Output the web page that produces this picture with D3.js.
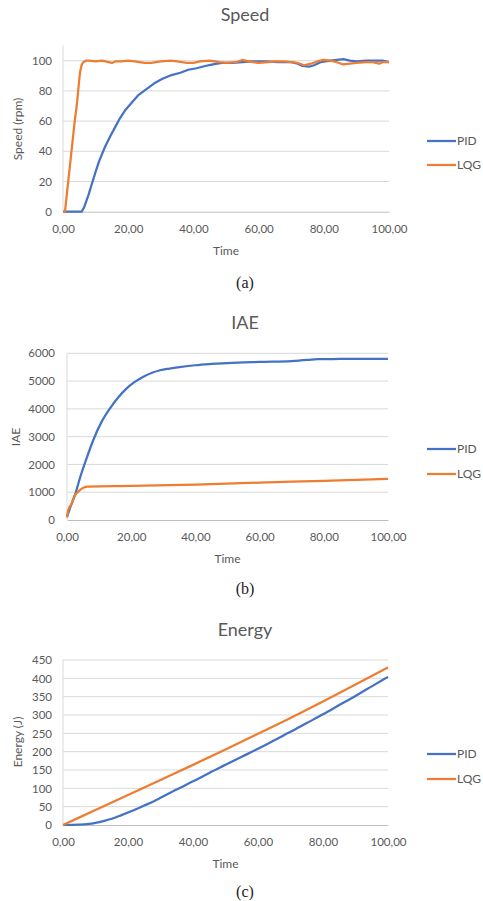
<!DOCTYPE html>
<html>
<head>
<meta charset="utf-8">
<script src="https://cdn.jsdelivr.net/npm/d3@7"></script>
<style>
  body { margin: 0; background: #fff; }
  svg { display: block; }
  text { font-family: Lato, "Open Sans", sans-serif; }
</style>
</head>
<body>
<div id="chart"></div>
<script>
// Speed (rpm) - PID
const speedPidT = [0, 5.7, 6.5, 7.8, 8.8, 9.8, 11, 12.9, 14.5, 16, 17.5, 19, 21, 23, 25.5, 28, 30.5, 33.3, 36, 38.4, 41, 43.6, 46, 48.7, 52, 55, 58, 62, 66, 70, 72, 73.5, 75.5, 77, 79, 82, 84, 86, 88, 90, 93, 96, 98, 100];
const speedPidV = [0, 0, 3, 11, 18, 25, 33, 43, 50, 56, 62, 67, 72, 77, 81, 85, 88, 90.5, 92, 94, 95, 96.5, 97.5, 98.5, 98.5, 99, 99.5, 99.5, 99, 99, 98, 96.5, 96, 97, 99, 100, 100.5, 101, 100, 99.5, 100, 100, 100, 99];
// Speed (rpm) - LQG
const speedLqgT = [0, 0.6, 1.1, 1.6, 2.1, 2.7, 3.2, 3.7, 4.2, 4.7, 5.2, 5.7, 6.2, 7, 8, 10, 12, 14, 15, 16, 18, 20, 22, 25, 27, 30, 33, 35, 38, 40, 42, 45, 48, 50, 53, 55, 57, 60, 63, 65, 68, 70, 72, 74, 76, 78, 80, 82, 84, 86, 88, 90, 93, 95, 97, 98, 100];
const speedLqgV = [0, 0, 10, 20, 30, 42, 52, 62, 70, 81, 92, 97, 99, 100, 100, 99.5, 100, 99, 98.5, 99.5, 99.5, 100, 99.5, 98.5, 98.5, 99.5, 100, 99.5, 98.5, 98.5, 99.5, 100, 99, 98.5, 99, 100.5, 99.5, 98.5, 99, 99.5, 99.5, 99, 98.5, 97, 98, 99.5, 100.5, 100, 99, 97.5, 98, 98.5, 99, 99, 98, 99, 99];

// IAE - PID
const iaePidT = [0, 1, 2.5, 4, 6.1, 8.2, 10.8, 13.4, 16, 18.6, 21, 23.8, 26.5, 29, 32, 35, 40, 45, 50, 60, 70, 75, 78, 85, 100];
const iaePidV = [100, 450, 900, 1500, 2220, 2880, 3540, 4020, 4420, 4740, 4960, 5160, 5300, 5390, 5450, 5500, 5570, 5615, 5650, 5690, 5720, 5760, 5790, 5795, 5800];
// IAE - LQG
const iaeLqgT = [0, 0.4, 1.5, 2.2, 3.5, 5.1, 6.5, 20, 40, 60, 80, 100];
const iaeLqgV = [100, 360, 600, 840, 1020, 1164, 1200, 1225, 1275, 1345, 1410, 1480];

// Energy (J) - PID
const energyPidT = [0, 5, 8, 10, 13, 15, 18, 20, 23, 25, 28, 30, 33, 35, 40, 45, 50, 55, 60, 65, 70, 75, 80, 85, 90, 95, 100];
const energyPidV = [0, 1, 3, 6, 12, 17, 27, 34, 45, 53, 65, 74, 88, 97, 119, 142, 164, 186, 208, 231, 254, 278, 302, 327, 352, 378, 404];
// Energy (J) - LQG
const energyLqgT = [0, 10, 20, 30, 40, 50, 60, 70, 80, 90, 100];
const energyLqgV = [0, 41, 82, 123, 164, 206, 249, 292, 337, 383, 430];

// Shared x ticks and legend names
const timeTicks = [0, 20, 40, 60, 80, 100];
const seriesNames = ['PID', 'LQG'];
const seriesColors = ['#4472C4', '#ED7D31'];

const width = 483;
const height = 901;

const svg = d3.select('#chart')
    .append('svg')
    .attr('width', width)
    .attr('height', height);

// Comma decimal format like the spreadsheet ("20,00")
const fmtTime = (d) => d3.format('.2f')(d).replace('.', ',');

function drawPanel(p) {
    const x = d3.scaleLinear().domain([0, 100]).range([p.left, p.right]);
    const y = d3.scaleLinear().domain([0, p.yMax]).range([p.bottom, p.top]);

    const g = svg.append('g');

    // Chart title
    g.append('text')
        .attr('x', 245)
        .attr('y', p.titleY)
        .attr('text-anchor', 'middle')
        .attr('fill', '#595959')
        .style('font-size', '18px')
        .text(p.title);

    // Horizontal gridlines
    g.append('g')
        .selectAll('line')
        .data(p.yTicks.filter((d) => d > 0))
        .join('line')
        .attr('x1', p.left)
        .attr('x2', p.right)
        .attr('y1', (d) => y(d))
        .attr('y2', (d) => y(d))
        .attr('stroke', '#d9d9d9')
        .attr('stroke-width', 1);

    // Left axis line (light)
    g.append('line')
        .attr('x1', p.left)
        .attr('x2', p.left)
        .attr('y1', y(p.yMax))
        .attr('y2', p.bottom)
        .attr('stroke', '#d9d9d9');

    // Bottom axis
    const xAxis = d3.axisBottom(x)
        .tickValues(timeTicks)
        .tickFormat(fmtTime)
        .tickSize(0)
        .tickPadding(13);
    const xg = g.append('g')
        .attr('transform', `translate(0, ${p.bottom})`)
        .call(xAxis);
    xg.select('.domain').attr('stroke', '#bfbfbf');
    xg.selectAll('text')
        .attr('fill', '#595959')
        .style('font-family', 'Lato, sans-serif')
        .style('font-size', '11.5px');

    // Left axis labels
    const yAxis = d3.axisLeft(y)
        .tickValues(p.yTicks)
        .tickFormat(d3.format('d'))
        .tickSize(0)
        .tickPadding(p.yPad);
    const yg = g.append('g')
        .attr('transform', `translate(${p.left}, 0)`)
        .call(yAxis);
    yg.select('.domain').remove();
    yg.selectAll('text')
        .attr('fill', '#595959')
        .style('font-family', 'Lato, sans-serif')
        .style('font-size', '11.5px');

    // Axis titles
    g.append('text')
        .attr('x', (p.left + p.right) / 2)
        .attr('y', p.timeY)
        .attr('text-anchor', 'middle')
        .attr('fill', '#595959')
        .style('font-size', '12px')
        .text('Time');

    g.append('text')
        .attr('transform', `translate(${p.yLabelX}, ${p.yLabelY}) rotate(-90)`)
        .attr('text-anchor', 'middle')
        .attr('fill', '#595959')
        .style('font-size', '12px')
        .text(p.yLabel);

    // Series lines
    const line = d3.line()
        .curve(p.curve)
        .x((d) => x(d[0]))
        .y((d) => y(d[1]));

    p.series.forEach((s, i) => {
        const pts = s.t.map((t, k) => [t, s.v[k]]);
        g.append('path')
            .datum(pts)
            .attr('fill', 'none')
            .attr('stroke', seriesColors[i])
            .attr('stroke-width', 2.25)
            .attr('stroke-linejoin', 'round')
            .attr('d', line);
    });

    // Legend (nudged left a bit so "LQG" stays inside the page)
    seriesNames.forEach((name, i) => {
        const ly = p.legendY[i];
        g.append('line')
            .attr('x1', 427)
            .attr('x2', 456)
            .attr('y1', ly)
            .attr('y2', ly)
            .attr('stroke', seriesColors[i])
            .attr('stroke-width', 2.25);
        g.append('text')
            .attr('x', 457)
            .attr('y', ly + 4)
            .attr('fill', '#595959')
            .style('font-size', '12px')
            .text(name);
    });

    // Caption under the panel
    g.append('text')
        .attr('x', 245)
        .attr('y', p.captionY)
        .attr('text-anchor', 'middle')
        .attr('fill', '#222')
        .style('font-family', '"Liberation Serif", "DejaVu Serif", serif')
        .style('font-size', '16px')
        .text(p.caption);
}

drawPanel({
    title: 'Speed', titleY: 21,
    left: 63, right: 389, top: 45.6, bottom: 211.7,
    yMax: 110, yTicks: [0, 20, 40, 60, 80, 100], yPad: 11,
    yLabel: 'Speed (rpm)', yLabelX: 22, yLabelY: 129,
    timeY: 255, captionY: 288, legendY: [141, 165],
    curve: d3.curveLinear,
    series: [{ t: speedPidT, v: speedPidV }, { t: speedLqgT, v: speedLqgV }],
    caption: '(a)'
});

drawPanel({
    title: 'IAE', titleY: 329,
    left: 67, right: 388, top: 353.3, bottom: 520,
    yMax: 6000, yTicks: [0, 1000, 2000, 3000, 4000, 5000, 6000], yPad: 12,
    yLabel: 'IAE', yLabelX: 20, yLabelY: 437,
    timeY: 563, captionY: 594, legendY: [449, 474],
    curve: d3.curveMonotoneX,
    series: [{ t: iaePidT, v: iaePidV }, { t: iaeLqgT, v: iaeLqgV }],
    caption: '(b)'
});

drawPanel({
    title: 'Energy', titleY: 636,
    left: 63, right: 388, top: 660, bottom: 825,
    yMax: 450, yTicks: [0, 50, 100, 150, 200, 250, 300, 350, 400, 450], yPad: 11,
    yLabel: 'Energy (J)', yLabelX: 22, yLabelY: 742,
    timeY: 868, captionY: 897, legendY: [754, 779],
    curve: d3.curveMonotoneX,
    series: [{ t: energyPidT, v: energyPidV }, { t: energyLqgT, v: energyLqgV }],
    caption: '(c)'
});
</script>
</body>
</html>
